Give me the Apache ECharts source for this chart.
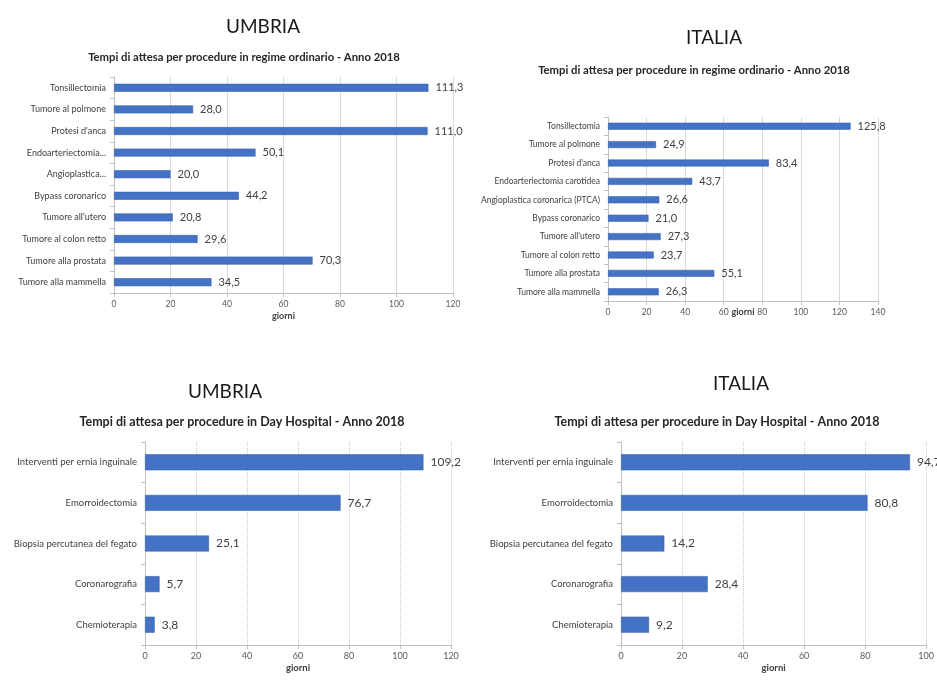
<!DOCTYPE html>
<html>
<head>
<meta charset="utf-8">
<script src="https://cdn.jsdelivr.net/npm/echarts@6/dist/echarts.min.js"></script>
<style>html,body{margin:0;padding:0;background:#fff}#c{width:937px;height:682px}</style>
</head>
<body>
<div id="c"></div>
<script>
// ---- data ----
const ordCategoriesUmbria = ['Tonsillectomia','Tumore al polmone',"Protesi d'anca",'Endoarteriectomia...','Angioplastica...','Bypass coronarico',"Tumore all'utero",'Tumore al colon retto','Tumore alla prostata','Tumore alla mammella'];
const ordValuesUmbria = [111.3, 28.0, 111.0, 50.1, 20.0, 44.2, 20.8, 29.6, 70.3, 34.5];
const ordCategoriesItalia = ['Tonsillectomia','Tumore al polmone',"Protesi d'anca",'Endoarteriectomia carotidea','Angioplastica coronarica (PTCA)','Bypass coronarico',"Tumore all'utero",'Tumore al colon retto','Tumore alla prostata','Tumore alla mammella'];
const ordValuesItalia = [125.8, 24.9, 83.4, 43.7, 26.6, 21.0, 27.3, 23.7, 55.1, 26.3];
const dhCategories = ['Interventi per ernia inguinale','Emorroidectomia','Biopsia percutanea del fegato','Coronarografia','Chemioterapia'];
const dhValuesUmbria = [109.2, 76.7, 25.1, 5.7, 3.8];
const dhValuesItalia = [94.7, 80.8, 14.2, 28.4, 9.2];
const axisMaxes = [120, 140, 120, 100];
const axisName = 'giorni';
const regionTitles = ['UMBRIA', 'ITALIA', 'UMBRIA', 'ITALIA'];
const subTitles = ['Tempi di attesa per procedure in regime ordinario - Anno 2018','Tempi di attesa per procedure in regime ordinario - Anno 2018','Tempi di attesa per procedure in Day Hospital - Anno 2018','Tempi di attesa per procedure in Day Hospital - Anno 2018'];

// ---- layout ----
const FONT = 'Lato, "Open Sans", sans-serif';
const grids = [
  {left:114, right:484, top:77, bottom:389},
  {left:608, right:59, top:117, bottom:381},
  {left:145, right:486, top:442, bottom:37},
  {left:621, right:10, top:442, bottom:37}
];
const titlePos = [[258,12],[709,23],[220,377],[736,369]];
const subPos = [[239,47],[689,60],[237,410],[712,410]];
const catFont = [9, 8.5, 9.5, 9.5];
const valFont = [11, 11, 12, 12];
const tickFont = [8.5, 8.5, 9, 9];
const barW = [8, 7, 16, 16];
const nameGaps = [19, 7, 18, 18];
const cats = [ordCategoriesUmbria, ordCategoriesItalia, dhCategories, dhCategories];
const vals = [ordValuesUmbria, ordValuesItalia, dhValuesUmbria, dhValuesItalia];

const fmt = v => v.toFixed(1).replace('.', ',');
const title = [];
regionTitles.forEach((t,i)=>{
  title.push({text:t, left:titlePos[i][0], top:titlePos[i][1], textAlign:'center',
    textStyle:{fontFamily:FONT, fontSize:19, fontWeight:'normal', color:'#1a1a1a'}});
  title.push({text:subTitles[i], left:subPos[i][0], top:subPos[i][1], textAlign:'center',
    textStyle:{fontFamily:FONT, fontSize:i<2?11.3:12.5, fontWeight:'bold', color:'#262626'}});
});

const xAxis = [], yAxis = [], series = [];
for (let i=0;i<4;i++){
  xAxis.push({type:'value', gridIndex:i, min:0, max:axisMaxes[i], interval:20,
    name:axisName, nameLocation:'middle', nameGap:nameGaps[i], nameMoveOverlap:false,
    nameTextStyle:{fontFamily:FONT, fontSize:i<2?9:9.5, fontWeight:'bold', color:'#404040'},
    axisLine:{show:true, lineStyle:{color:'#bfbfbf', width:1}},
    axisTick:{show:true, length:4, lineStyle:{color:'#bfbfbf'}},
    axisLabel:{fontFamily:FONT, fontSize:tickFont[i], color:'#595959', margin:7},
    splitLine:{show:true, lineStyle:{color:i<2?'#d9d9d9':'#c8c8c8', type:i<2?'solid':'dotted', width:1}}
  });
  yAxis.push({type:'category', gridIndex:i, data:cats[i], inverse:true,
    axisLine:{show:true, lineStyle:{color:'#bfbfbf'}},
    axisTick:{show:true, length:4, alignWithLabel:false, lineStyle:{color:'#bfbfbf'}},
    axisLabel:{fontFamily:FONT, fontSize:catFont[i], color:'#404040', margin:8},
    splitLine:{show:false}
  });
  series.push({type:'bar', xAxisIndex:i, yAxisIndex:i, data:vals[i], barWidth:barW[i],
    itemStyle:{color:'#4472C4', borderColor:'#3b63ad', borderWidth:0.6},
    label:{show:true, position:'right', distance:7, formatter:p=>fmt(p.value),
      fontFamily:FONT, fontSize:valFont[i], color:'#404040'},
    animation:false, silent:true
  });
}

const chart = echarts.init(document.getElementById('c'), null, {renderer:'canvas'});
chart.setOption({backgroundColor:'#fff', animation:false, title, grid:grids, xAxis, yAxis, series});
</script>
</body>
</html>
